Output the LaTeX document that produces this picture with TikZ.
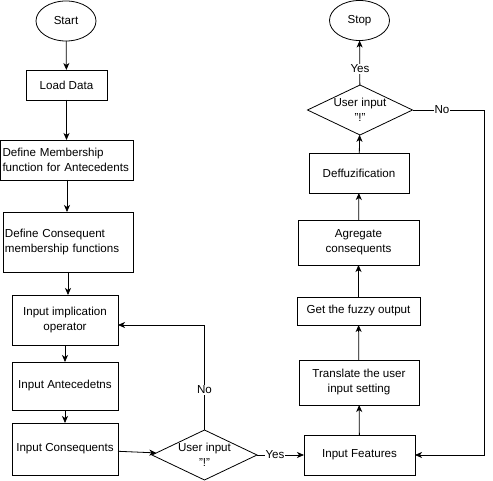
\documentclass[tikz,border=0pt]{standalone}
\usepackage{fontspec}
\setmainfont{Liberation Sans}
\usetikzlibrary{shapes.geometric,arrows.meta}
\begin{document}
\begin{tikzpicture}[x=1pt,y=-1pt,
  every node/.style={font=\fontsize{11.6}{15}\selectfont, inner sep=0pt, outer sep=0pt},
  proc/.style={draw, line width=0.8pt, rectangle, align=center},
  term/.style={draw, line width=0.8pt, ellipse, minimum width=60pt, minimum height=40pt},
  dec/.style={draw, line width=0.8pt, diamond, aspect=2.1, minimum width=105pt, minimum height=50pt, align=center, inner sep=0pt},
  arr/.style={line width=0.8pt, -{Stealth[length=7pt,width=6pt,inset=2pt]}},
  lbl/.style={fill=white, inner sep=1pt}]
\useasboundingbox (0,0) rectangle (493,481);
% left column
\node[term] (start) at (66,21) {Start};
\node[proc, minimum width=81pt, minimum height=30pt] (load) at (66.5,85) {Load Data};
\node[proc, minimum width=133pt, minimum height=40pt, align=left, text width=129pt] (defm) at (67,160) {Define Membership\\function for Antecedents};
\node[proc, minimum width=130pt, minimum height=60pt, align=left, text width=126pt] (defc) at (68,242) {Define Consequent\\membership functions};
\node[proc, minimum width=106pt, minimum height=50pt] (impl) at (65,320) {Input implication\\operator};
\node[proc, minimum width=106pt, minimum height=48pt] (ante) at (65,386) {Input Antecedetns};
\node[proc, minimum width=106pt, minimum height=52pt] (cons) at (65,449) {Input Consequents};
\node[dec] (d1) at (204.5,455) {User input\\"!"};
% right column
\node[term] (stop) at (359.5,20.5) {Stop};
\node[dec] (d2) at (360,110) {User input\\"!"};
\node[proc, minimum width=100pt, minimum height=40pt] (defz) at (359,173) {Deffuzification};
\node[proc, minimum width=121pt, minimum height=45pt] (agg) at (358.5,242.5) {Agregate\\consequents};
\node[proc, minimum width=123pt, minimum height=28pt] (fuzzy) at (358.5,311) {Get the fuzzy output};
\node[proc, minimum width=120pt, minimum height=45pt] (trans) at (359,382.5) {Translate the  user\\input setting};
\node[proc, minimum width=111pt, minimum height=40pt] (feat) at (359.5,455) {Input Features};
% connectors
\draw[arr] (start) -- (load);
\draw[arr] (load) -- (load |- defm.north);
\draw[arr] (defm) -- (defm |- defc.north);
\draw[arr] (defc.south) -- (defc.south |- impl.north);
\draw[arr] (impl) -- (ante);
\draw[arr] (ante) -- (cons);
\draw[arr] (cons) -- (d1);
\coordinate (nocorner) at (d1.north |- 0,325);
\draw[arr] (d1.north) -- (nocorner) -- (impl.east |- nocorner);
\node[lbl] at (204.5,390) {No};
\draw[arr] (d1.east) -- (feat.west |- d1.east);
\node[lbl] at (275,455) {Yes};
\draw[arr] (feat) -- (trans);
\draw[arr] (trans) -- (fuzzy);
\draw[arr] (fuzzy) -- (agg);
\draw[arr] (agg) -- (defz);
\draw[arr] (defz) -- (d2);
\draw[arr] (d2) -- (stop);
\node[lbl] at (360,69) {Yes};
\coordinate (c1) at (484,110);
\coordinate (c2) at (484,455);
\draw[arr] (d2.east) -- (c1) -- (c2) -- (feat.east);
\node[lbl] at (442,110) {No};
\end{tikzpicture}
\end{document}
